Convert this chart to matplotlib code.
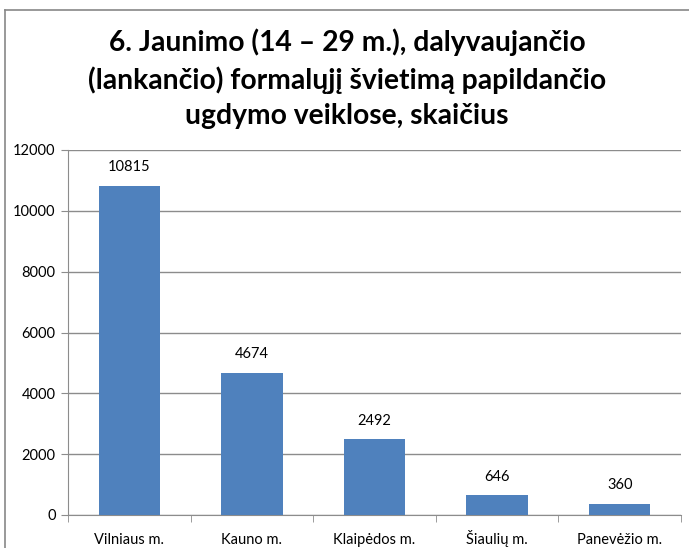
import matplotlib
matplotlib.use("Agg")
import matplotlib.pyplot as plt
from matplotlib.transforms import offset_copy

categories = ["Vilniaus m.", "Kauno m.", "Klaipėdos m.", "Šiaulių m.", "Panevėžio m."]
values = [10815, 4674, 2492, 646, 360]
yticks = [0, 2000, 4000, 6000, 8000, 10000, 12000]
title = "6. Jaunimo (14 – 29 m.), dalyvaujančio\n(lankančio) formalųjį švietimą papildančio\nugdymo veiklose, skaičius"

plt.rcParams['font.family'] = ['Lato', 'DejaVu Sans']

fig = plt.figure(figsize=(6.89, 5.48), dpi=100)
fig.patch.set_facecolor("white")
# chart border (top and left visible)
fig.add_artist(plt.Line2D([5/689, 5/689], [0, 1 - 10/548], color="#888888", lw=1.2, transform=fig.transFigure))
fig.add_artist(plt.Line2D([5/689, 1], [1 - 10/548, 1 - 10/548], color="#888888", lw=1.2, transform=fig.transFigure))

ax = fig.add_axes([68/689, 1 - 515/548, (681 - 68)/689, (515 - 150)/548])
x = list(range(len(categories)))
bars = ax.bar(x, values, width=0.5, color="#4F81BD", zorder=3)
ax.set_xlim(-0.5, len(categories) - 0.5)
ax.set_ylim(0, 12000)
ax.set_yticks(yticks)
ax.set_yticklabels([str(v) for v in yticks], fontsize=10.5)
ax.yaxis.grid(True, color="#8c8c8c", lw=1, zorder=0)
for s in ["top", "right"]:
    ax.spines[s].set_visible(False)
ax.spines["left"].set_color("#8c8c8c")
ax.spines["bottom"].set_color("#8c8c8c")
ax.tick_params(axis="y", length=5, color="#8c8c8c", pad=4)
ax.set_xticks([i + 0.5 for i in range(-1, len(categories))], minor=True)
ax.tick_params(axis="x", which="minor", length=5, color="#8c8c8c")
ax.set_xticks(x)
ax.set_xticklabels([])
ax.tick_params(axis="x", which="major", length=0)
lbl_tr = offset_copy(ax.get_xaxis_transform(), fig=fig, x=0, y=-29, units="dots")
for xi, cat in zip(x, categories):
    ax.text(xi, 0, cat, transform=lbl_tr, ha="center", va="baseline", fontsize=10.5, clip_on=False)
for b, v in zip(bars, values):
    ax.text(b.get_x() + b.get_width() / 2, v + 380, str(v), ha="center", va="bottom", fontsize=10.5)

fig.text(0.5 + 5/689/2, 1 - 79/548, title, ha="center", va="center", fontsize=20.3, fontweight="bold", linespacing=1.45)

fig.savefig("out.png", dpi=100)
